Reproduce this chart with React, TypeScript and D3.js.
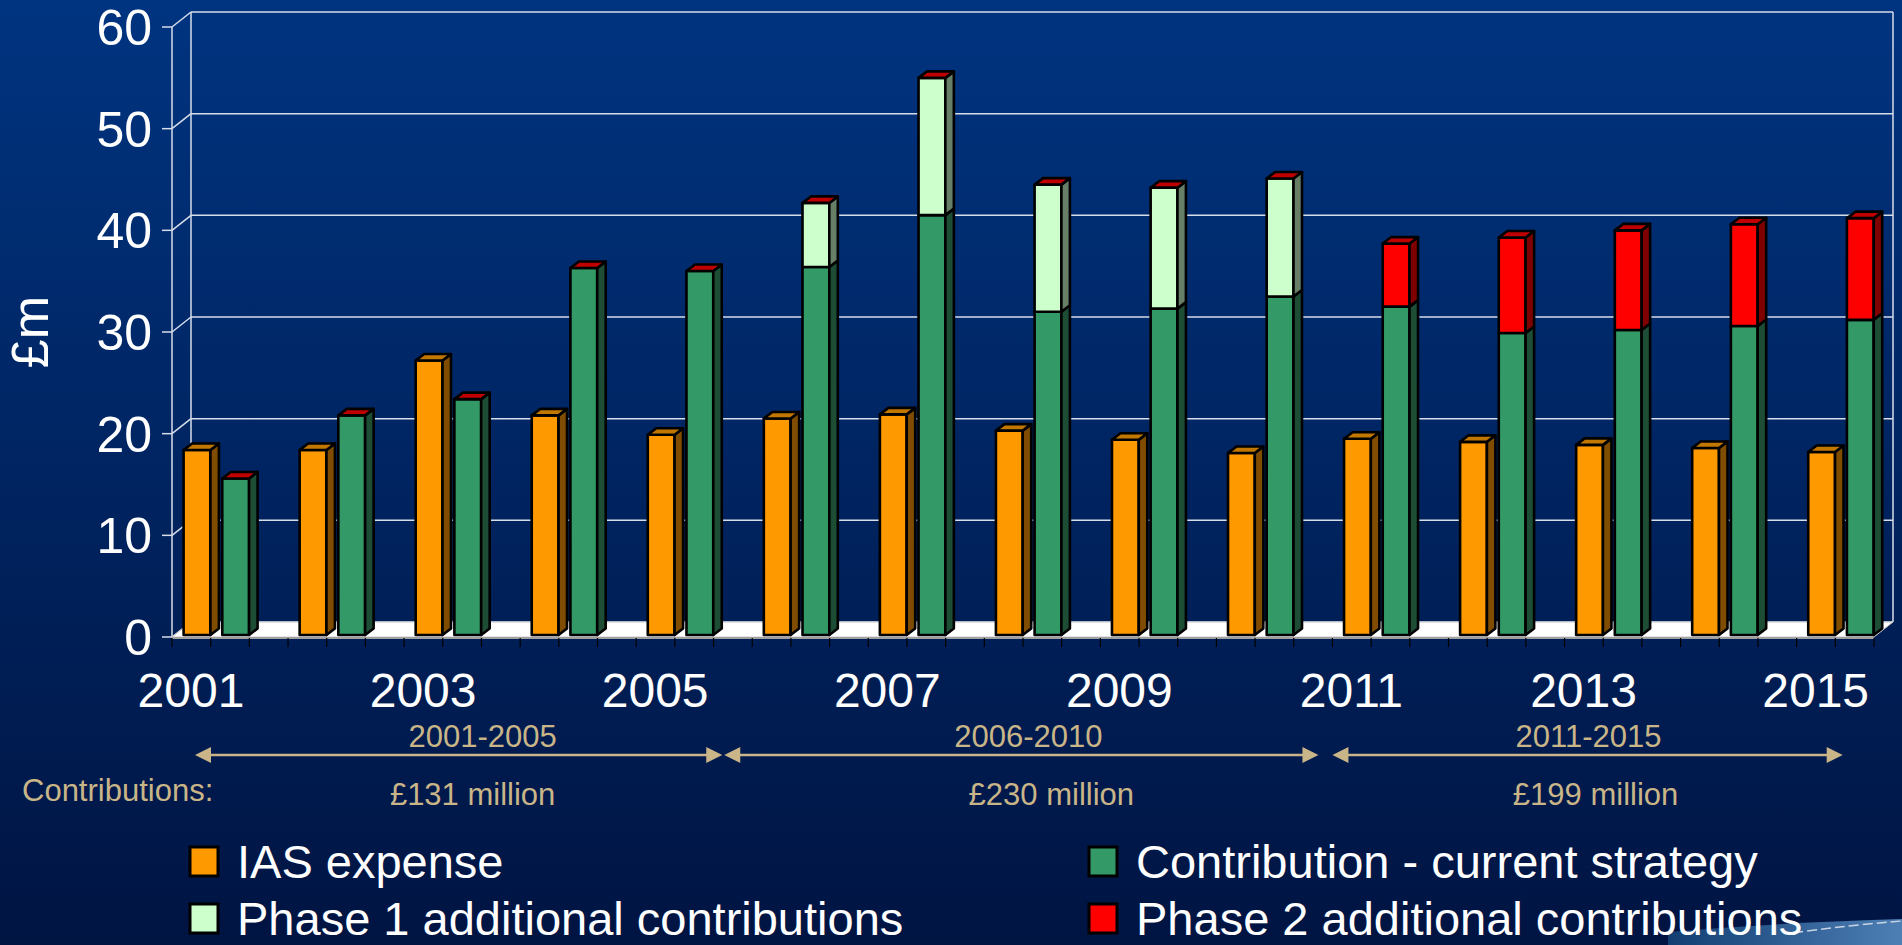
import * as d3 from 'd3';

const years = [2001, 2002, 2003, 2004, 2005, 2006, 2007, 2008, 2009, 2010, 2011, 2012, 2013, 2014, 2015];
const iasExpense = [18.2, 18.2, 27.0, 21.6, 19.7, 21.3, 21.7, 20.1, 19.2, 17.9, 19.3, 19.0, 18.7, 18.4, 18.0];
const contribution = [15.4, 21.6, 23.2, 36.1, 35.8, 36.2, 41.3, 31.8, 32.1, 33.3, 32.3, 29.7, 30.0, 30.4, 31.0];
const phase1 = [0, 0, 0, 0, 0, 6.3, 13.5, 12.5, 11.9, 11.6, 0, 0, 0, 0, 0];
const phase2 = [0, 0, 0, 0, 0, 0, 0, 0, 0, 0, 6.2, 9.4, 9.8, 10.0, 10.0];

const yTicks = [0, 10, 20, 30, 40, 50, 60];
const xLabelYears = [2001, 2003, 2005, 2007, 2009, 2011, 2013, 2015];

const periodLabels = ['2001-2005', '2006-2010', '2011-2015'];
const periodAmounts = ['£131 million', '£230 million', '£199 million'];
const periodStart = [2001, 2006, 2011];
const periodEnd = [2005, 2010, 2015];

const legendLabels = ['IAS expense', 'Contribution - current strategy', 'Phase 1 additional contributions', 'Phase 2 additional contributions'];

// front, side, top colours for each series
const colors = {
  ias: { front: '#FF9900', side: '#7F4C00', top: '#C27800' },
  contrib: { front: '#339966', side: '#1E4D36', top: '#C00000' },
  phase1: { front: '#CCFFCC', side: '#667F66', top: '#C00000' },
  phase2: { front: '#FF0000', side: '#7F0000', top: '#C00000' },
};
const legendColors = [colors.ias.front, colors.contrib.front, colors.phase1.front, colors.phase2.front];

const W = 1902;
const H = 945;
const FONT = '"Liberation Sans", Arial, sans-serif';
const TAN = '#C9B587';

// 3D geometry
const left = 172;
const floorRight = 1874;
const base = 637;
const wallDX = 19;
const wallDY = -15;
const barDX = 8.5;
const barDY = -6.5;

const y = d3.scaleLinear().domain([0, 60]).range([base, 27]);
const x = d3
  .scaleBand<number>()
  .domain(years)
  .range([left, left + ((floorRight - left) * 45) / 44]);
const step = x.step();
const barW = 26.8;
const barInset = 11.6;
const yb = (v: number) => y(v) - 2;

type Seg = { v0: number; v1: number; c: { front: string; side: string; top: string } };

function Bar({ bx, segs }: { bx: number; segs: Seg[] }) {
  const visible = segs.filter((s) => s.v1 > s.v0);
  const topSeg = segs[segs.length - 1];
  const topV = d3.max(segs, (s) => s.v1) ?? 0;
  const yt = yb(topV);
  return (
    <g stroke="#000" strokeWidth={2.6} strokeLinejoin="round">
      {visible.map((s, i) => {
        const y1 = yb(s.v1);
        const y0 = yb(s.v0);
        return (
          <g key={i}>
            <rect x={bx} y={y1} width={barW} height={y0 - y1} fill={s.c.front} />
            <polygon
              points={`${bx + barW},${y1} ${bx + barW + barDX},${y1 + barDY} ${bx + barW + barDX},${y0 + barDY} ${bx + barW},${y0}`}
              fill={s.c.side}
            />
          </g>
        );
      })}
      <polygon
        points={`${bx},${yt} ${bx + barDX},${yt + barDY} ${bx + barW + barDX},${yt + barDY} ${bx + barW},${yt}`}
        fill={topSeg.c.top}
      />
    </g>
  );
}

export default function App() {
  const wallRight = floorRight + wallDX;
  const floorTicks = d3.range(0, 45).map((i) => left + (i * step) / 3);

  return (
    <div>
      <style>{`body{margin:0;background:#001443}`}</style>
      <svg width={W} height={H} style={{ display: 'block' }} fontFamily={FONT}>
        <defs>
          <linearGradient id="bg" x1="0" y1="0" x2="0" y2="1">
            <stop offset="0%" stopColor="#003480" />
            <stop offset="100%" stopColor="#001442" />
          </linearGradient>
          <linearGradient id="swoosh" x1="0" y1="0" x2="1" y2="0">
            <stop offset="0%" stopColor="#123e72" />
            <stop offset="100%" stopColor="#4d7fb5" />
          </linearGradient>
        </defs>
        <rect width={W} height={H} fill="url(#bg)" />

        {/* back walls and gridlines */}
        <g stroke="#D7DEEA" strokeWidth={1.5} fill="none">
          {yTicks.map((t) => (
            <g key={t}>
              <line x1={left - 10} x2={left} y1={y(t)} y2={y(t)} />
              <line x1={left} y1={y(t)} x2={left + wallDX} y2={y(t) + wallDY} />
              <line x1={left + wallDX} y1={y(t) + wallDY} x2={wallRight} y2={y(t) + wallDY} />
            </g>
          ))}
          <line x1={left} x2={left} y1={y(60)} y2={y(0)} />
          <line x1={left + wallDX} x2={left + wallDX} y1={y(60) + wallDY} y2={y(0) + wallDY} />
          <line x1={wallRight} x2={wallRight} y1={y(60) + wallDY} y2={y(0) + wallDY} />
        </g>

        {/* floor */}
        <polygon
          points={`${left},${base} ${floorRight},${base} ${wallRight},${base + wallDY} ${left + wallDX},${base + wallDY}`}
          fill="#FFFFFF"
          stroke="#C8C8C8"
          strokeWidth={1}
        />
        <line x1={left} x2={floorRight} y1={base + 1} y2={base + 1} stroke="#A0A0A0" strokeWidth={2} />
        <g stroke="#000" strokeWidth={1.2}>
          {floorTicks.map((tx, i) => (
            <line key={i} x1={tx} x2={tx} y1={base + 1} y2={base + 10} />
          ))}
        </g>

        {/* bars */}
        {years.map((yr, i) => {
          const bx = (x(yr) ?? 0) + barInset;
          const c0 = contribution[i];
          const c1 = c0 + phase1[i];
          const c2 = c1 + phase2[i];
          return (
            <g key={yr}>
              <Bar bx={bx} segs={[{ v0: 0, v1: iasExpense[i], c: colors.ias }]} />
              <Bar
                bx={bx + step / 3}
                segs={[
                  { v0: 0, v1: c0, c: colors.contrib },
                  { v0: c0, v1: c1, c: colors.phase1 },
                  { v0: c1, v1: c2, c: colors.phase2 },
                ]}
              />
            </g>
          );
        })}

        {/* y axis labels */}
        <g fill="#FFFFFF" fontSize={50} textAnchor="end">
          {yTicks.map((t) => (
            <text key={t} x={152} y={y(t)} dy="0.36em">
              {t}
            </text>
          ))}
        </g>
        <text
          transform={`translate(48,${y(30)}) rotate(-90)`}
          textAnchor="middle"
          fill="#FFFFFF"
          fontSize={52}
        >
          £m
        </text>

        {/* x axis labels */}
        <g fill="#FFFFFF" fontSize={48} textAnchor="middle">
          {xLabelYears.map((yr) => (
            <text key={yr} x={(x(yr) ?? 0) + 19} y={707}>
              {yr}
            </text>
          ))}
        </g>

        {/* period arrows */}
        {periodLabels.map((lbl, i) => {
          const insetL = [23, -28, 0][i];
          const insetR = [30, 14, 70][i];
          const x0 = (x(periodStart[i]) ?? 0) + insetL;
          const x1 = (x(periodEnd[i]) ?? 0) + step - insetR;
          const ay = 755;
          const mid = (x0 + x1) / 2;
          return (
            <g key={lbl}>
              <line x1={x0 + 14} x2={x1 - 14} y1={ay} y2={ay} stroke={TAN} strokeWidth={2.5} />
              <polygon points={`${x0},${ay} ${x0 + 16},${ay - 8} ${x0 + 16},${ay + 8}`} fill={TAN} />
              <polygon points={`${x1},${ay} ${x1 - 16},${ay - 8} ${x1 - 16},${ay + 8}`} fill={TAN} />
              <text x={mid + [24, 7, 1][i]} y={747} textAnchor="middle" fill={TAN} fontSize={31}>
                {lbl}
              </text>
              <text x={mid + [14, 30, 8][i]} y={805} textAnchor="middle" fill={TAN} fontSize={31}>
                {periodAmounts[i]}
              </text>
            </g>
          );
        })}
        <text x={22} y={801} fill={TAN} fontSize={31}>
          Contributions:
        </text>

        {/* decorative swoosh */}
        <path d="M1668,945 L1668,932 Q1790,922 1902,919 L1902,945 Z" fill="url(#swoosh)" />
        <path d="M1793,933 Q1850,925 1902,921" stroke="#C8D4E4" strokeWidth={1.5} strokeDasharray="10 4" fill="none" />

        {/* legend */}
        {legendLabels.map((lbl, i) => {
          const lx = i % 2 === 0 ? 190 : 1089;
          const ly = i < 2 ? 847 : 904;
          return (
            <g key={lbl}>
              <rect x={lx} y={ly} width={28} height={29} fill={legendColors[i]} stroke="#000" strokeWidth={3} />
              <text x={lx + 47} y={ly + 31} fill="#FFFFFF" fontSize={47}>
                {lbl}
              </text>
            </g>
          );
        })}
      </svg>
    </div>
  );
}
